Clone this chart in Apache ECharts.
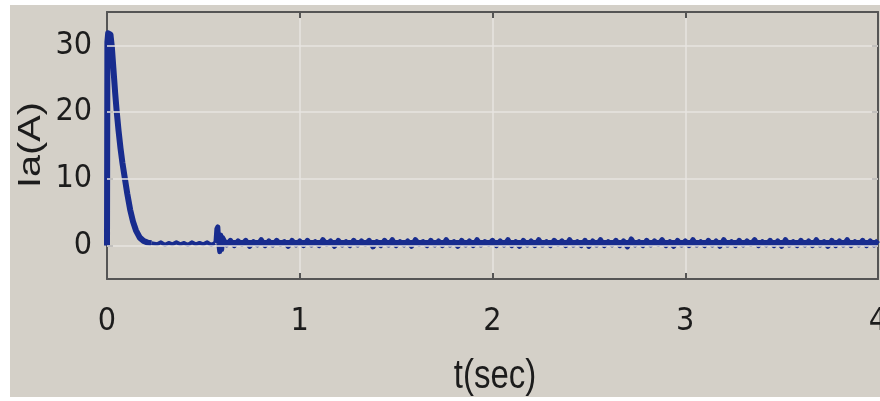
<!DOCTYPE html>
<html>
<head>
<meta charset="utf-8">
<script src="https://cdn.jsdelivr.net/npm/echarts@6/dist/echarts.min.js"></script>
<style>
  html, body { margin: 0; padding: 0; background: #ffffff; }
  #chart { width: 880px; height: 401px; }
</style>
</head>
<body>
<div id="chart"></div>
<script>
// Armature current Ia during start-up: transient peak, then a small noisy steady state.

// Start-up transient (time in s, current in A)
const transientTime = [0, 0.002, 0.006, 0.012, 0.018, 0.025, 0.033, 0.042, 0.05, 0.06, 0.07, 0.08, 0.093, 0.105, 0.12, 0.135, 0.15, 0.17, 0.19, 0.21, 0.23];
const transientIa   = [0, 30.5, 31.8, 32.0, 31.6, 29.8, 26.6, 23.0, 20.2, 17.2, 14.6, 12.4, 10.0, 7.8, 5.4, 3.6, 2.3, 1.2, 0.7, 0.45, 0.35];

// Quiet interval before the load disturbance, sampled every 0.02 s from 0.24 s
const quietStart = 0.24;
const quietStep = 0.02;
const quietIa = [0.4, 0.2, 0.5, 0.1, 0.4, 0.2, 0.5, 0.2, 0.4, 0.1, 0.5, 0.2, 0.4, 0.2, 0.5, 0.1, 0.4];

// Disturbance around 0.57 s
const disturbTime = [0.565, 0.57, 0.575, 0.58, 0.585, 0.59, 0.595, 0.60];
const disturbIa   = [0.4, 2.5, 2.8, 0.3, -0.9, 1.6, -0.6, 1.2];

// Mean level of the loaded steady state (t, Ia)
const meanTime = [0.60, 4.0];
const meanIa   = [0.4, 0.4];

// Steady-state ripple, sampled every 0.02 s from 0.62 s to 4.00 s
const steadyStart = 0.62;
const steadyStep = 0.02;
const steadyIa = [
  0.1, 0.8, 0.0, 0.7, 0.2, 0.8, -0.1, 0.6, 0.1, 0.9,
  0.0, 0.7, 0.1, 0.8, 0.2, 0.6, -0.1, 0.8, 0.1, 0.7,
  0.0, 0.8, 0.1, 0.6, 0.0, 0.9, 0.2, 0.7, -0.1, 0.8,
  0.1, 0.6, 0.0, 0.8, 0.1, 0.7, 0.2, 0.8, -0.2, 0.6,
  0.0, 0.8, 0.1, 0.9, 0.0, 0.6, 0.1, 0.7, -0.1, 0.9,
  0.2, 0.6, 0.0, 0.8, 0.1, 0.7, 0.0, 0.9, 0.1, 0.6,
  -0.1, 0.8, 0.1, 0.7, 0.0, 0.9, 0.1, 0.6, 0.2, 0.8,
  0.0, 0.7, 0.1, 0.9, 0.0, 0.6, -0.1, 0.8, 0.1, 0.7,
  0.0, 0.9, 0.1, 0.6, 0.0, 0.8, 0.2, 0.7, 0.0, 0.9,
  0.1, 0.6, 0.0, 0.8, -0.1, 0.7, 0.1, 0.9, 0.0, 0.6,
  0.1, 0.8, 0.0, 0.7, -0.2, 1.0, 0.1, 0.6, 0.0, 0.8,
  0.1, 0.7, 0.2, 0.9, 0.0, 0.6, -0.1, 0.8, 0.1, 0.7,
  0.0, 0.9, 0.1, 0.6, 0.0, 0.8, 0.1, 0.7, -0.1, 0.9,
  0.1, 0.6, 0.0, 0.8, 0.1, 0.7, 0.2, 0.9, 0.0, 0.6,
  0.1, 0.8, 0.0, 0.7, -0.1, 0.9, 0.1, 0.6, 0.0, 0.8,
  0.1, 0.7, 0.0, 0.9, 0.1, 0.6, -0.1, 0.8, 0.0, 0.7,
  0.1, 0.9, 0.0, 0.6, 0.1, 0.8, 0.0, 0.7, 0.1, 0.8
];

// Axis ticks
const xTicks = [0, 1, 2, 3, 4];
const yTicks = [0, 10, 20, 30];
const xRange = [0, 4];
const yRange = [-5, 35];

const xName = 't(sec)';
const yName = 'Ia(A)';

// Build [t, Ia] pairs
const transientData = transientTime.map((t, i) => [t, transientIa[i]]);
const quietData = [[transientTime[transientTime.length - 1], transientIa[transientIa.length - 1]]];
quietIa.forEach((v, i) => quietData.push([+(quietStart + i * quietStep).toFixed(3), v]));
const steadyData = [];
disturbIa.forEach((v, i) => steadyData.push([disturbTime[i], v]));
steadyIa.forEach((v, i) => steadyData.push([+(steadyStart + i * steadyStep).toFixed(3), v]));
const meanData = meanTime.map((t, i) => [t, meanIa[i]]);

const FRAME = '#555555';
const GRIDLINE = '#e7e5e0';
const TEXT = '#1c1c1c';
const TRACE = '#182c8e';
const tickFont = {
  fontFamily: "'Liberation Sans Narrow', 'DejaVu Sans Condensed', 'Liberation Sans', sans-serif",
  fontSize: 32, color: TEXT
};

const chart = echarts.init(document.getElementById('chart'), null, { renderer: 'canvas' });

const tickStyle = { color: FRAME, width: 2 };

chart.setOption({
  backgroundColor: '#ffffff',
  animation: false,
  grid: { left: 107, right: 2, top: 12, bottom: 122, containLabel: false, outerBoundsMode: 'none' },
  graphic: [
    { type: 'rect', z: -10, silent: true, shape: { x: 10, y: 5, width: 870, height: 392 }, style: { fill: '#d4d0c8' } },
    { type: 'text', z: 10, x: 31, y: 145, rotation: Math.PI / 2, scaleX: 1.24,
      style: { text: yName, fontFamily: 'Liberation Sans', fontSize: 32, fill: TEXT, align: 'center', verticalAlign: 'middle' } },
    { type: 'text', z: 10, x: 495, y: 377, scaleY: 1.24,
      style: { text: xName, fontFamily: 'Liberation Sans', fontSize: 33, fill: TEXT, align: 'center', verticalAlign: 'middle' } }
  ],
  xAxis: [
    {
      type: 'value', min: xRange[0], max: xRange[1], interval: 1, position: 'bottom',
      axisLine: { show: true, onZero: false, lineStyle: tickStyle },
      axisTick: { show: true, inside: true, length: 6, customValues: xTicks, lineStyle: tickStyle },
      axisLabel: Object.assign({ margin: 27, customValues: xTicks, showMaxLabel: true, hideOverlap: false }, tickFont),
      splitLine: { show: true, lineStyle: { color: GRIDLINE, width: 1.5 } }
    },
    {
      type: 'value', min: xRange[0], max: xRange[1], interval: 1, position: 'top',
      axisLine: { show: true, onZero: false, lineStyle: tickStyle },
      axisTick: { show: true, inside: true, length: 6, customValues: xTicks, lineStyle: tickStyle },
      axisLabel: { show: false }, splitLine: { show: false }
    }
  ],
  yAxis: [
    {
      type: 'value', min: yRange[0], max: yRange[1], interval: 5, position: 'left',
      axisLine: { show: true, onZero: false, lineStyle: tickStyle },
      axisTick: { show: true, inside: true, length: 6, customValues: yTicks, lineStyle: tickStyle },
      axisLabel: Object.assign({ margin: 15, customValues: yTicks }, tickFont),
      splitLine: { show: false }
    },
    {
      type: 'value', min: yRange[0], max: yRange[1], interval: 5, position: 'right',
      axisLine: { show: true, onZero: false, lineStyle: tickStyle },
      axisTick: { show: true, inside: true, length: 6, customValues: yTicks, lineStyle: tickStyle },
      axisLabel: { show: false }, splitLine: { show: false }
    }
  ],
  series: [
    {
      name: 'gridlines', type: 'line', data: [], z: 1, silent: true,
      markLine: {
        silent: true, symbol: 'none', animation: false,
        label: { show: false },
        lineStyle: { color: GRIDLINE, width: 1.5, type: 'solid' },
        data: yTicks.map(v => ({ yAxis: v }))
      }
    },
    {
      name: 'quiet', type: 'line', data: quietData, z: 3,
      showSymbol: false, symbol: 'none', silent: true,
      lineStyle: { color: TRACE, width: 4, join: 'round' }
    },
    {
      name: 'mean', type: 'line', data: meanData, z: 3,
      showSymbol: false, symbol: 'none', silent: true,
      lineStyle: { color: TRACE, width: 6 }
    },
    {
      name: 'steady', type: 'line', data: steadyData, z: 3,
      showSymbol: false, symbol: 'none', silent: true,
      lineStyle: { color: TRACE, width: 5, join: 'round' }
    },
    {
      name: 'transient', type: 'line', data: transientData, z: 4,
      showSymbol: false, symbol: 'none', silent: true,
      lineStyle: { color: TRACE, width: 6, join: 'round' }
    }
  ]
});
</script>
</body>
</html>
